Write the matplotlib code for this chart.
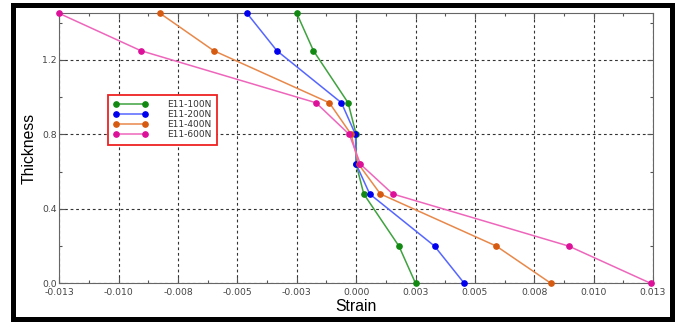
import matplotlib
matplotlib.use("Agg")
import matplotlib.pyplot as plt
from matplotlib.ticker import MultipleLocator, FixedLocator, FixedFormatter
from matplotlib.patches import Rectangle

# thickness positions through the laminate
thickness = [0.0, 0.2, 0.48, 0.64, 0.8, 0.97, 1.25, 1.45]

strain_100 = [0.0025, 0.0018, 0.00032, 0.0, 0.0, -0.00034, -0.0018, -0.0025]
strain_200 = [0.00455, 0.0033, 0.00057, 0.0, -0.00003, -0.00062, -0.00334, -0.00459]
strain_400 = [0.0082, 0.0059, 0.00102, 0.0001, -0.00021, -0.00113, -0.0060, -0.00825]
strain_600 = [0.0124, 0.00895, 0.00154, 0.00018, -0.00029, -0.00169, -0.00907, -0.0125]

labels = ["E11-100N", "E11-200N", "E11-400N", "E11-600N"]
line_colors = ["#3fa23f", "#5566ff", "#e8884a", "#ee66bb"]
marker_colors = ["#128a12", "#0000ee", "#d65a10", "#dd1199"]

x_ticks = [-0.0125, -0.01, -0.0075, -0.005, -0.0025, 0.0, 0.0025, 0.005, 0.0075, 0.01, 0.0125]
x_tick_labels = ["-0.013", "-0.010", "-0.008", "-0.005", "-0.003", "0.000",
                 "0.003", "0.005", "0.008", "0.010", "0.013"]
y_ticks = [0.0, 0.4, 0.8, 1.2]
y_tick_labels = ["0.0", "0.4", "0.8", "1.2"]


def plot_strain_profile() -> None:
    fig = plt.figure(figsize=(6.77, 3.22), dpi=100)
    ax = fig.add_axes([0.0876, 0.1202, 0.877, 0.838])

    series = [strain_100, strain_200, strain_400, strain_600]
    for vals, lab, lc, mc in zip(series, labels, line_colors, marker_colors):
        ax.plot(vals, thickness, color=lc, linewidth=1.1, marker="o",
                markersize=3.8, markerfacecolor=mc, markeredgecolor=mc,
                label=lab, clip_on=False, zorder=3)

    ax.set_xlim(-0.0125, 0.0125)
    ax.set_ylim(0.0, 1.45)

    ax.xaxis.set_major_locator(FixedLocator(x_ticks))
    ax.xaxis.set_major_formatter(FixedFormatter(x_tick_labels))
    ax.xaxis.set_minor_locator(MultipleLocator(0.00125))
    ax.yaxis.set_major_locator(FixedLocator(y_ticks))
    ax.yaxis.set_major_formatter(FixedFormatter(y_tick_labels))
    ax.yaxis.set_minor_locator(MultipleLocator(0.2))

    ax.tick_params(which="both", direction="in", top=True, right=True,
                   color="#555555", labelsize=6.7, labelcolor="#444444", pad=2)
    ax.tick_params(axis="x", which="major", pad=3.5)
    ax.tick_params(which="major", length=4, width=0.8)
    ax.tick_params(which="minor", length=2.5, width=0.8)

    ax.grid(True, which="major", color="#333333", linestyle=(0, (2.5, 2.5)), linewidth=0.8)
    for sp in ax.spines.values():
        sp.set_color("#666666")
        sp.set_linewidth(0.8)

    ax.set_xlabel("Strain", fontsize=11.3, fontfamily="Liberation Sans", labelpad=1)
    ax.set_ylabel("Thickness", fontsize=11.3, fontfamily="Liberation Sans", labelpad=4)

    leg = ax.legend(loc="upper left", bbox_to_anchor=(108 / 677, 1 - 95 / 322),
                    bbox_transform=fig.transFigure, borderaxespad=0,
                    numpoints=2, handlelength=3.8, handletextpad=2.2,
                    labelspacing=0.1, borderpad=0.6, fontsize=6.5,
                    fancybox=False, framealpha=1, edgecolor="#ee2222")
    leg.get_frame().set_linewidth(1.3)
    for t in leg.get_texts():
        t.set_color("#333333")

    # thick black frame around the whole picture
    fig.patches.append(Rectangle((0.0185, 0.0078), 0.9734, 0.9767,
                                 transform=fig.transFigure, fill=False,
                                 edgecolor="black", linewidth=3.6, zorder=10))

    fig.savefig("out.png", dpi=100)


if __name__ == "__main__":
    plot_strain_profile()
